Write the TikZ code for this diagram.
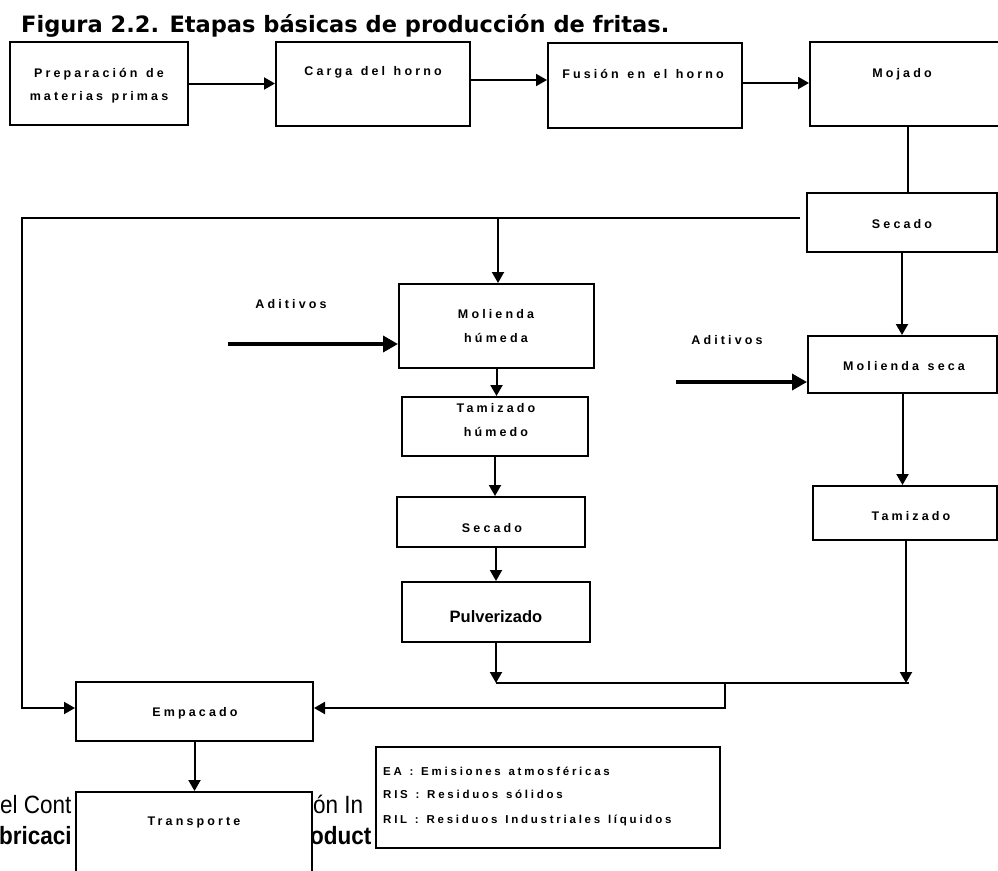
\documentclass[tikz,border=0pt]{standalone}
\usepackage{fontspec}
\setmainfont{Liberation Sans}
\newfontfamily\lab[LetterSpace=25,WordSpace=1.3]{Liberation Sans Bold}
\newfontfamily\legfont[LetterSpace=24,WordSpace=1.3]{Liberation Sans Bold}
\newfontfamily\titlefont{DejaVu Sans}
\newfontfamily\narrowfont[FakeStretch=0.9]{Liberation Sans}
\usetikzlibrary{arrows.meta}
\begin{document}
\begin{tikzpicture}[x=1pt,y=-1pt,
  box/.style={draw, line width=2pt, fill=white, inner sep=0pt, rectangle},
  lbl/.style={inner sep=0pt, anchor=base, font=\lab\fontsize{12.5}{14}\selectfont},
  leg/.style={inner sep=0pt, anchor=base west, font=\legfont\fontsize{11.5}{13}\selectfont},
  frag/.style={inner sep=0pt, anchor=base west, font=\narrowfont\fontsize{25}{28}\selectfont},
  conn/.style={line width=2pt},
  arr/.style={conn, -{Triangle[length=11pt,width=12pt]}},
  thickarr/.style={line width=3.5pt, -{Triangle[length=15pt,width=16pt]}},
]
\useasboundingbox (0,0) rectangle (998,870);

% title
\node[anchor=base west, inner sep=0pt] (title) at (21,32)
  {\resizebox{648pt}{!}{\titlefont\bfseries Figura 2.2. Etapas básicas de producción de fritas.}};

% background text fragments
\node[frag] (f1) at (0,813) {el Cont};
\node[frag] (f2) at (313,813) {ón In};
\node[frag, font=\narrowfont\bfseries\fontsize{25}{28}\selectfont] (f3) at (-1,844) {bricaci};
\node[frag, font=\narrowfont\bfseries\fontsize{25}{28}\selectfont] (f4) at (310,844) {oduct};

% boxes
\node[box, minimum width=178pt, minimum height=83pt] (prep) at (99,83.5) {};
\node[box, minimum width=194pt, minimum height=84pt] (carga) at (373,84) {};
\node[box, minimum width=194pt, minimum height=85pt] (fusion) at (645,85.5) {};
\node[box, minimum width=196pt, minimum height=84pt] (mojado) at (908,84) {};
\node[box, minimum width=190pt, minimum height=59pt] (secR) at (902,222.5) {};
\node[box, minimum width=195pt, minimum height=84pt] (molH) at (496.5,326) {};
\node[box, minimum width=186pt, minimum height=59pt] (tamH) at (495,426.5) {};
\node[box, minimum width=188pt, minimum height=50pt] (secM) at (491,522) {};
\node[box, minimum width=188pt, minimum height=60pt] (pulv) at (496,612) {};
\node[box, minimum width=189pt, minimum height=57pt] (molS) at (902.5,364.5) {};
\node[box, minimum width=184pt, minimum height=54pt] (tamS) at (905,513) {};
\node[box, minimum width=237pt, minimum height=59pt] (emp) at (194.5,711.5) {};
\node[box, minimum width=236pt, minimum height=113pt] (trans) at (194,848.5) {};
\node[box, minimum width=344pt, minimum height=101pt] (legend) at (548,797.5) {};

% labels
\node[lbl] (tprepA) at (99,77) {Preparación de};
\node[lbl] (tprepB) at (99,100) {materias primas};
\node[lbl] (tcarga) at (373,75) {Carga del horno};
\node[lbl] (tfusion) at (643,78) {Fusión en el horno};
\node[lbl] (tmojado) at (902,77) {Mojado};
\node[lbl] (tsecR) at (902,228) {Secado};
\node[lbl] (tmolHA) at (496,318) {Molienda};
\node[lbl] (tmolHB) at (496,342) {húmeda};
\node[lbl] (tad1) at (291,308) {Aditivos};
\node[lbl] (ttamHA) at (496,412) {Tamizado};
\node[lbl] (ttamHB) at (496,436) {húmedo};
\node[lbl] (tsecM) at (492,532) {Secado};
\node[inner sep=0pt, anchor=base, font=\bfseries\fontsize{16.5}{18}\selectfont] (tpulv) at (496,622) {Pulverizado};
\node[lbl] (tmolS) at (904,370) {Molienda seca};
\node[lbl] (tad2) at (727,344) {Aditivos};
\node[lbl] (ttamS) at (911,520) {Tamizado};
\node[lbl] (temp) at (195,716) {Empacado};
\node[lbl] (ttrans) at (194,825) {Transporte};
\node[leg] (lg1) at (383,775) {EA : Emisiones atmosféricas};
\node[leg] (lg2) at (383,798) {RIS : Residuos sólidos};
\node[leg] (lg3) at (383,823) {RIL : Residuos Industriales líquidos};

% coordinates
\coordinate (sL) at (800,218);
\coordinate (lft) at (22,218);
\coordinate (brch) at (498,218);
\coordinate (lb) at (22,708);
\coordinate (ad1) at (228,344);
\coordinate (ad2) at (676,382);
\coordinate (jR) at (906,683);
\coordinate (jE) at (909,683);
\coordinate (stub) at (725,683);
\coordinate (stubB) at (725,708);

% connectors top row
\draw[arr] (prep.east) -- (prep.east -| carga.west);
\draw[arr] ([yshift=4pt]carga.east) -- ([yshift=4pt]carga.east -| fusion.west);
\draw[arr] ([yshift=2.5pt]fusion.east) -- ([yshift=2.5pt]fusion.east -| mojado.west);
\draw[conn] (mojado.south) -- (mojado.south |- secR.north);

% left bypass
\draw[arr] (sL) -- (lft) -- (lb) -- (lb -| emp.west);
\draw[arr] (brch) -- (brch |- molH.north);

% middle column
\draw[thickarr] (ad1) -- (ad1 -| molH.west);
\draw[arr] (molH.south) -- (molH.south |- tamH.north);
\draw[arr] (tamH.south) -- (tamH.south |- secM.north);
\draw[arr] (pulv.north |- secM.south) -- (pulv.north);
\draw[arr] (pulv.south) -- (pulv.south |- jR);

% right column
\draw[arr] (secR.south) -- (secR.south |- molS.north);
\draw[thickarr] (ad2) -- (ad2 -| molS.west);
\draw[arr] (molS.south) -- (molS.south |- tamS.north);
\draw[arr] (jR |- tamS.south) -- (jR);

% join to Empacado
\draw[conn] (pulv.south |- jR) -- (jE);
\draw[arr] (stub) -- (stubB) -- (stubB -| emp.east);
\draw[arr] (emp.south) -- (emp.south |- trans.north);
\end{tikzpicture}
\end{document}
